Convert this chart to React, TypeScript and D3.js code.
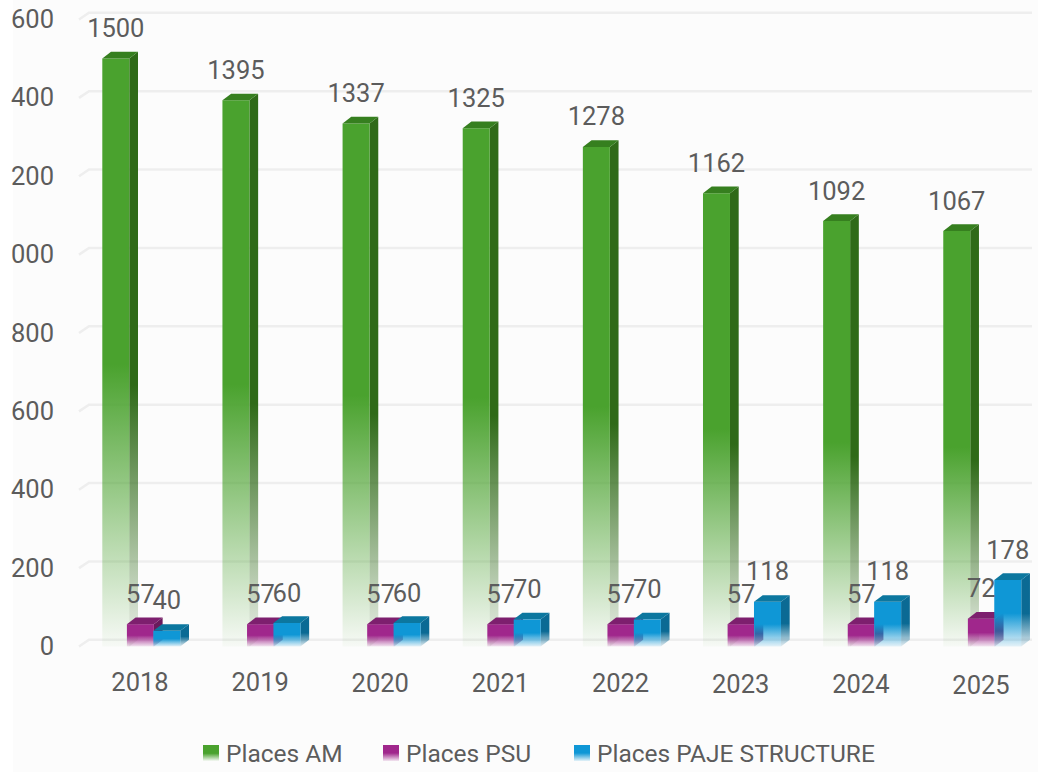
import React from "react";
import * as d3 from "d3";

const years = ["2018", "2019", "2020", "2021", "2022", "2023", "2024", "2025"];
const placesAM = [1500, 1395, 1337, 1325, 1278, 1162, 1092, 1067];
const placesPSU = [57, 57, 57, 57, 57, 57, 57, 72];
const placesPAJE = [40, 60, 60, 70, 70, 118, 118, 178];
const tickValues = [0, 200, 400, 600, 800, 1000, 1200, 1400, 1600];
const tickLabels = ["0", "200", "400", "600", "800", "000", "200", "400", "600"];
const seriesNames = ["Places AM", "Places PSU", "Places PAJE STRUCTURE"];
const seriesFront = ["#4aa22e", "#a0278c", "#0f97d6"];
const seriesSide = ["#2f6a18", "#6a1a5c", "#0b6a94"];
const seriesTop = ["#367f1f", "#7d1f6e", "#0c779f"];
const seriesValues = [placesAM, placesPSU, placesPAJE];

const FONT = "Roboto, 'Liberation Sans', Arial, sans-serif";
const TEXT = "#5c5c5c";
const DX = 8.7;
const DY = 6.7;

export default function App() {
  const yAxis = d3.scaleLinear().domain([0, 1600]).range([646.5, 19.5]);
  // the picture's bars run slightly off the axis, so they get their own scale
  const y = d3.scaleLinear().domain([0, 60, 178, 1067, 1500]).range([646.5, 623, 580, 231, 58.5]);
  const x = d3.scaleBand<string>().domain(years).range([80, 1041.1]).paddingInner(0).paddingOuter(0);
  const yearY = d3.scaleLinear().domain([0, years.length - 1]).range([690.7, 693.5]);
  const barW = 27;
  const seriesOff = d3.scaleOrdinal<number, number>().domain([0, 1, 2]).range([22.3, 46.9, 73.3]);

  const line = d3.line<[number, number]>();
  const fade = (id: string, color: string, stop: number, end: number) => (
    <linearGradient id={id} x1="0" y1="0" x2="0" y2="1" key={id}>
      <stop offset="0" stopColor={color} stopOpacity={1} />
      <stop offset={stop} stopColor={color} stopOpacity={1} />
      <stop offset="1" stopColor={color} stopOpacity={end} />
    </linearGradient>
  );

  const legendX = [203, 383, 574];

  return (
    <svg
      width={1038}
      height={772}
      style={{ position: "absolute", left: 0, top: 0, background: "#ffffff" }}
      fontFamily={FONT}
    >
      <defs>
        {seriesFront.map((c, i) => fade(`front${i}`, c, i === 0 ? 0.52 : 0.5, i === 0 ? 0.03 : 0.1))}
        {seriesSide.map((c, i) => fade(`side${i}`, c, i === 0 ? 0.56 : 0.55, i === 0 ? 0.08 : 0.1))}
      </defs>
      <rect x={13} y={0} width={1025} height={772} fill="#fcfcfc" />

      {tickValues.map((t, i) => {
        const yy = yAxis(t);
        const path = line([
          [79, yy],
          [89, yy - DY],
          [1032, yy - DY],
        ]) as string;
        return (
          <g key={t}>
            <path d={path} fill="none" stroke="#eeeeee" strokeWidth={2.5} />
            <text x={54} y={yy + 8.5} textAnchor="end" fontSize={25.5} fill={TEXT}>
              {tickLabels[i]}
            </text>
          </g>
        );
      })}

      {seriesValues.map((vals, s) =>
        vals.map((v, i) => {
          const x0 = (x(years[i]) as number) + seriesOff(s);
          const x1 = x0 + barW;
          const y0 = y(v);
          const yb = y(0);
          const front = line([[x0, y0], [x1, y0], [x1, yb], [x0, yb]]) + "Z";
          const side = line([[x1, y0], [x1 + DX, y0 - DY], [x1 + DX, yb - DY], [x1, yb]]) + "Z";
          const top = line([[x0, y0], [x0 + DX, y0 - DY], [x1 + DX, y0 - DY], [x1, y0]]) + "Z";
          return (
            <g key={`${s}-${i}`}>
              <path d={side} fill={`url(#side${s})`} />
              <path d={front} fill={`url(#front${s})`} />
              <path d={top} fill={seriesTop[s]} />
            </g>
          );
        })
      )}

      {seriesValues.map((vals, s) =>
        vals.map((v, i) => (
          <text
            key={`l${s}-${i}`}
            x={(x(years[i]) as number) + seriesOff(s) + barW / 2}
            y={y(v) - 21.5}
            textAnchor="middle"
            fontSize={25.5}
            fill={TEXT}
          >
            {v}
          </text>
        ))
      )}

      {years.map((yr, i) => (
        <text
          key={yr}
          x={(x(yr) as number) + 60}
          y={yearY(i)}
          textAnchor="middle"
          fontSize={25.5}
          fill={TEXT}
        >
          {yr}
        </text>
      ))}

      {seriesNames.map((n, i) => (
        <g key={n}>
          <rect x={legendX[i]} y={745} width={16} height={16} fill={`url(#front${i})`} />
          <text x={legendX[i] + 23} y={761.5} fontSize={24.5} fill={TEXT}>
            {n}
          </text>
        </g>
      ))}
    </svg>
  );
}
